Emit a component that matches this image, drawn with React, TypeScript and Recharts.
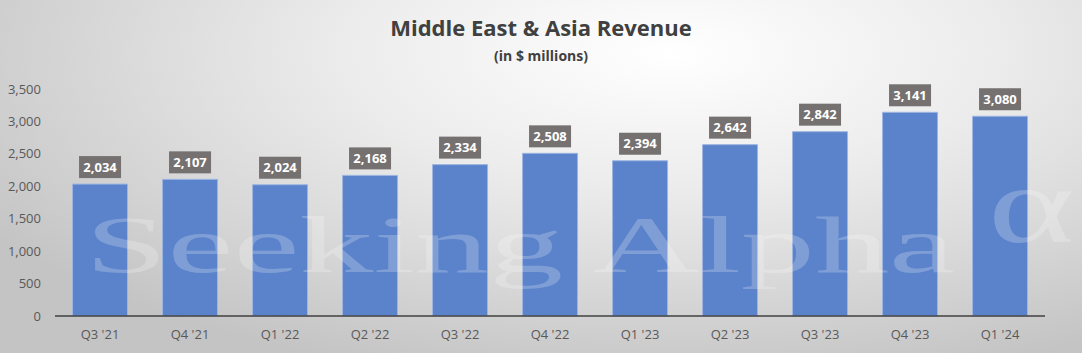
import { Bar, BarChart, LabelList, XAxis, YAxis } from 'recharts'

const quarters = ["Q3 '21", "Q4 '21", "Q1 '22", "Q2 '22", "Q3 '22", "Q4 '22", "Q1 '23", "Q2 '23", "Q3 '23", "Q4 '23", "Q1 '24"]
const revenue = [2034, 2107, 2024, 2168, 2334, 2508, 2394, 2642, 2842, 3141, 3080]
const yTicks = [0, 500, 1000, 1500, 2000, 2500, 3000, 3500]

const data = quarters.map((q, i) => ({ quarter: q, revenue: revenue[i] }))

const fmt = (v: number) => v.toLocaleString('en-US')

function ValueBox(props: any) {
  const { x, y, width, value } = props
  const cx = x + width / 2
  const w = 42
  const h = 22
  const top = y - 6 - h
  return (
    <g>
      <rect x={cx - w / 2} y={top} width={w} height={h} fill="#767171" />
      <text x={cx} y={top + h / 2 + 1} textAnchor="middle" dominantBaseline="middle" fill="#fff" fontSize={13} fontWeight={700} fontFamily="Open Sans">
        {fmt(value)}
      </text>
    </g>
  )
}

export default function App() {
  return (
    <div
      style={{
        position: 'absolute',
        left: 0,
        top: 0,
        width: 1082,
        height: 353,
        overflow: 'hidden',
        fontFamily: 'Open Sans',
        background: 'radial-gradient(ellipse 75% 95% at 62% 15%, #ffffff 0%, #ececec 40%, #c4c4c4 100%)',
      }}
    >
      <div style={{ position: 'absolute', top: 12, width: 1082, textAlign: 'center', fontSize: 22, fontWeight: 700, color: '#404040' }}>
        Middle East &amp; Asia Revenue
      </div>
      <div style={{ position: 'absolute', top: 46, width: 1082, textAlign: 'center', fontSize: 14, fontWeight: 700, color: '#404040' }}>
        (in $ millions)
      </div>
      <BarChart width={1082} height={353} data={data} margin={{ top: 89, right: 37, left: 10, bottom: 7 }} barCategoryGap="19.5%">
        <XAxis
          dataKey="quarter"
          height={30}
          tickSize={0}
          tickMargin={14}
          axisLine={{ stroke: '#404040', strokeWidth: 1.5 }}
          tick={{ fill: '#595959', fontSize: 13 }}
        />
        <YAxis
          width={45}
          domain={[0, 3500]}
          ticks={yTicks}
          tickFormatter={fmt}
          axisLine={false}
          tickLine={false}
          tickSize={0}
          tickMargin={14}
          tick={{ fill: '#595959', fontSize: 13 }}
        />
        <Bar dataKey="revenue" fill="#5b83cb" stroke="#9db5e0" strokeWidth={1} isAnimationActive={false}>
          <LabelList dataKey="revenue" content={ValueBox} />
        </Bar>
      </BarChart>
      <svg width={1082} height={353} style={{ position: 'absolute', left: 0, top: 0, pointerEvents: 'none' }}>
        <text x={85} y={272} fontFamily="Liberation Serif" fontSize={80} fill="#ffffff" fillOpacity={0.22} textLength={870} lengthAdjust="spacingAndGlyphs">
          Seeking Alpha
        </text>
        <text x={0} y={0} transform="translate(988 242) scale(1.5 1)" fontFamily="Liberation Serif" fontSize={110} fill="#ffffff" fillOpacity={0.22}>
          α
        </text>
      </svg>
    </div>
  )
}
